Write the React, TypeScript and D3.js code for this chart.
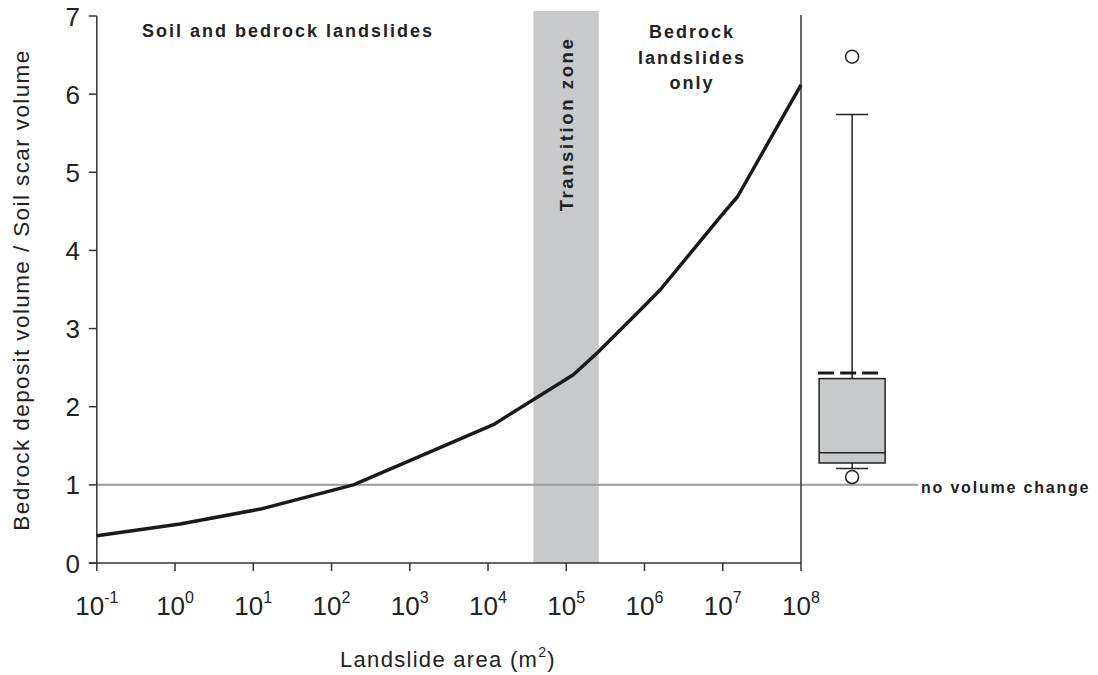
import React from "react";
import * as d3 from "d3";

// Curve: landslide area (m²) vs. ratio bedrock deposit volume / soil scar volume
const curveArea = [0.1, 1.16, 12.3, 190, 1000, 1.17e4, 1.23e5, 2.5e5, 8.9e5, 1.6e6, 9.3e6, 1.55e7, 1e8];
const curveRatio = [0.35, 0.5, 0.69, 1.0, 1.31, 1.77, 2.41, 2.69, 3.24, 3.5, 4.43, 4.69, 6.12];

// Transition zone (m²)
const transitionZone = [3.8e4, 2.6e5];

// Boxplot of observed ratios
const boxPositionArea = 4.5e8;
const boxWhiskers = [1.21, 5.74];
const boxQuartiles = [1.28, 2.36];
const boxMedian = [1.41];
const boxMean = [2.43];
const boxOutliers = [6.48, 1.1];

const xTickExponents = [-1, 0, 1, 2, 3, 4, 5, 6, 7, 8];
const yTicks = [0, 1, 2, 3, 4, 5, 6, 7];
const noChangeValue = 1;

const FONT = "Arial, 'Liberation Sans', Helvetica, sans-serif";

export default function App() {
  const W = 1098;
  const H = 675;
  const x = d3.scaleLog().domain([0.1, 1e8]).range([96.8, 801]);
  const y = d3.scaleLinear().domain([0, 7]).range([563, 16]);

  const pts: [number, number][] = curveArea.map((a, i) => [x(a), y(curveRatio[i])]);
  const line = d3.line()(pts) || "";

  const bx = x(boxPositionArea);
  const boxHalf = 33;
  const capHalf = 16;
  const axisColor = "#333";
  const textColor = "#222";

  return (
    <svg
      width={W}
      height={H}
      style={{ position: "absolute", left: 0, top: 0, background: "#fff" }}
      fontFamily={FONT}
    >
      {/* transition zone */}
      <rect
        x={x(transitionZone[0])}
        y={11}
        width={x(transitionZone[1]) - x(transitionZone[0])}
        height={y(0) - 11}
        fill="#c8c9cb"
      />
      {/* no volume change line */}
      <line x1={x(0.1)} x2={918} y1={y(noChangeValue)} y2={y(noChangeValue)} stroke="#9a9a9a" strokeWidth={2} />

      {/* axes */}
      <line x1={x(0.1)} x2={x(0.1)} y1={y(7)} y2={y(0)} stroke={axisColor} strokeWidth={1.5} />
      <line x1={x(0.1) - 8} x2={x(1e8)} y1={y(0)} y2={y(0)} stroke={axisColor} strokeWidth={1.5} />
      <line x1={x(1e8)} x2={x(1e8)} y1={y(7) - 1} y2={y(0)} stroke={axisColor} strokeWidth={1.5} />
      {yTicks.map((t) => (
        <g key={"yt" + t}>
          <line x1={x(0.1) - 8} x2={x(0.1)} y1={y(t)} y2={y(t)} stroke={axisColor} strokeWidth={1.5} />
          <text x={80} y={y(t) + 9.5} textAnchor="end" fontSize={26} fill={textColor}>
            {t}
          </text>
        </g>
      ))}
      {xTickExponents.map((e) => {
        const px = x(Math.pow(10, e));
        return (
          <g key={"xt" + e}>
            <line x1={px} x2={px} y1={y(0)} y2={y(0) + 8} stroke={axisColor} strokeWidth={1.5} />
            <text x={px} y={615} textAnchor="middle" fontSize={26} fill={textColor}>
              10
              <tspan fontSize={16} dy={-12}>
                {e}
              </tspan>
            </text>
          </g>
        );
      })}

      {/* curve */}
      <path d={line} fill="none" stroke="#1a1a1a" strokeWidth={3.5} strokeLinejoin="round" />

      {/* boxplot */}
      <line x1={bx} x2={bx} y1={y(boxWhiskers[1])} y2={y(boxQuartiles[1])} stroke={textColor} strokeWidth={1.5} />
      <line x1={bx} x2={bx} y1={y(boxQuartiles[0])} y2={y(boxWhiskers[0])} stroke={textColor} strokeWidth={1.5} />
      <line x1={bx - capHalf} x2={bx + capHalf} y1={y(boxWhiskers[1])} y2={y(boxWhiskers[1])} stroke={textColor} strokeWidth={1.5} />
      <line x1={bx - capHalf} x2={bx + capHalf} y1={y(boxWhiskers[0])} y2={y(boxWhiskers[0])} stroke={textColor} strokeWidth={1.5} />
      <rect
        x={bx - boxHalf}
        y={y(boxQuartiles[1])}
        width={boxHalf * 2}
        height={y(boxQuartiles[0]) - y(boxQuartiles[1])}
        fill="#c8c9cb"
        stroke={textColor}
        strokeWidth={1.5}
      />
      <line x1={bx - boxHalf} x2={bx + boxHalf} y1={y(boxMedian[0])} y2={y(boxMedian[0])} stroke={textColor} strokeWidth={1.5} />
      <line
        x1={bx - 34}
        x2={bx + 26}
        y1={y(boxMean[0])}
        y2={y(boxMean[0])}
        stroke="#1a1a1a"
        strokeWidth={3}
        strokeDasharray="16 6"
      />
      {boxOutliers.map((o, i) => (
        <circle key={"o" + i} cx={bx} cy={y(o)} r={6.5} fill="#fff" stroke={textColor} strokeWidth={1.5} />
      ))}

      {/* annotations */}
      <text x={288} y={37} textAnchor="middle" fontSize={18} fontWeight="bold" letterSpacing={2} fill={textColor}>
        Soil and bedrock landslides
      </text>
      <text
        transform={`translate(${(x(transitionZone[0]) + x(transitionZone[1])) / 2 + 7},124) rotate(-90)`}
        textAnchor="middle"
        fontSize={18.5}
        fontWeight="bold"
        letterSpacing={2.6}
        fill={textColor}
      >
        Transition zone
      </text>
      {["Bedrock", "landslides", "only"].map((s, i) => (
        <text key={s} x={692} y={38 + i * 25.5} textAnchor="middle" fontSize={18} fontWeight="bold" letterSpacing={2} fill={textColor}>
          {s}
        </text>
      ))}
      <text x={921} y={493} fontSize={16} fontWeight="bold" letterSpacing={1.8} fill={textColor}>
        no volume change
      </text>

      {/* axis titles */}
      <text x={448} y={667} textAnchor="middle" fontSize={22} letterSpacing={1.3} fill={textColor}>
        Landslide area (m
        <tspan fontSize={14} dy={-10}>
          2
        </tspan>
        <tspan dy={10}>)</tspan>
      </text>
      <text
        transform={`translate(29,${290}) rotate(-90)`}
        textAnchor="middle"
        fontSize={22.5}
        letterSpacing={1.4}
        fill={textColor}
      >
        Bedrock deposit volume / Soil scar volume
      </text>
    </svg>
  );
}
